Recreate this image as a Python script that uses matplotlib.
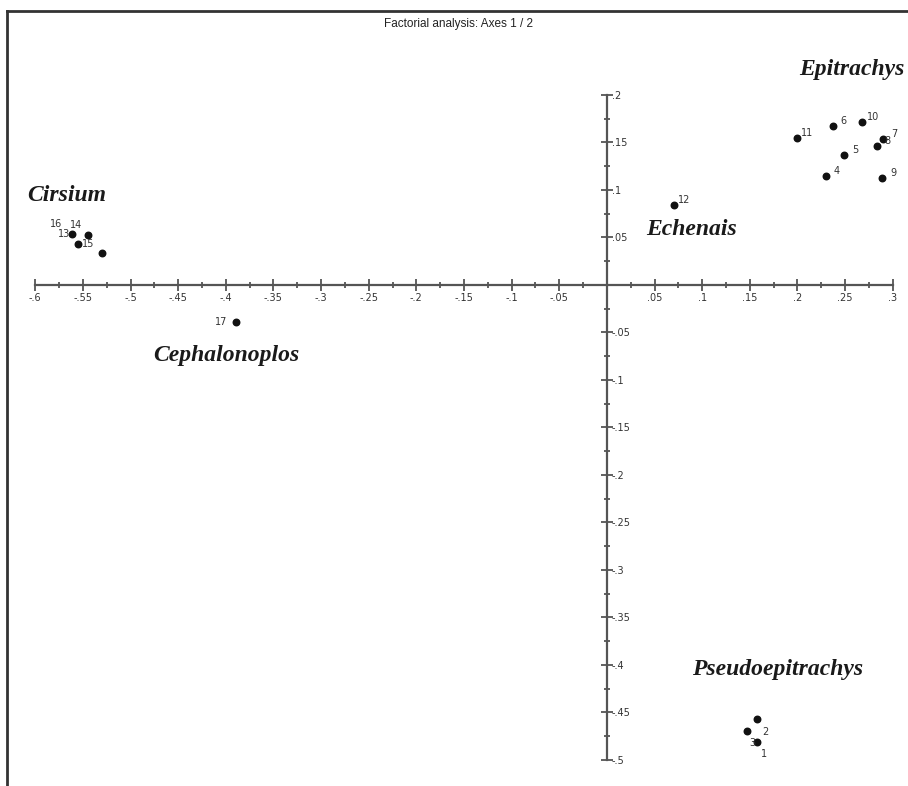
import matplotlib.pyplot as plt
from matplotlib.lines import Line2D
from matplotlib.ticker import FixedLocator, FuncFormatter

# Factor scores on axes 1 and 2, one entry per relevé
point_ids = ['1', '2', '3', '4', '5', '6', '7', '8', '9', '10',
             '11', '12', '13', '14', '15', '16', '17']
axis1 = [0.158, 0.158, 0.147, 0.230, 0.249, 0.237, 0.290, 0.283, 0.289, 0.268,
         0.199, 0.070, -0.555, -0.545, -0.530, -0.561, -0.389]
axis2 = [-0.481, -0.457, -0.469, 0.115, 0.137, 0.167, 0.154, 0.146, 0.113, 0.172,
         0.155, 0.084, 0.043, 0.053, 0.034, 0.054, -0.039]

# which way each number label sits from its dot (pixels)
label_offset = {
    '1': (7, -12), '2': (8, -13), '3': (5, -12),
    '13': (-14, 10), '14': (-12, 10), '15': (-14, 9), '16': (-16, 10),
    '17': (-15, 0),
}
default_offset = (11, 5)

# genus names and where they are written (data units, baseline)
groups = ['Epitrachys', 'Cirsium', 'Echenais', 'Cephalonoplos', 'Pseudoepitrachys']
group_x = [0.3127, -0.6086, 0.0409, -0.4764, 0.0892]
group_y = [0.221, 0.0884, 0.0526, -0.080, -0.4105]
group_ha = ['right', 'left', 'left', 'left', 'left']

fig = plt.figure(figsize=(9.08, 7.86), dpi=100)
ax = fig.add_axes([0, 0, 1, 1])
ax.set_xlim(-0.637, 0.316)
ax.set_ylim(-0.5274, 0.300)

axis_col = '#555555'
for side in ['top', 'left']:
    ax.spines[side].set_visible(False)
ax.spines['bottom'].set_position('zero')
ax.spines['right'].set_position('zero')
ax.spines['bottom'].set_bounds(-0.6, 0.3)
ax.spines['right'].set_bounds(-0.5, 0.2)
for side in ['bottom', 'right']:
    ax.spines[side].set_color(axis_col)
    ax.spines[side].set_linewidth(1.6)

ax.yaxis.set_ticks_position('right')
ax.xaxis.set_ticks_position('bottom')

xt = [round(-0.6 + 0.05 * i, 2) for i in range(19) if i != 12]
yt = [round(-0.5 + 0.05 * i, 2) for i in range(15) if i != 10]
ax.set_xticks(xt)
ax.set_yticks(yt)
ax.xaxis.set_minor_locator(FixedLocator([-0.575 + 0.05 * i for i in range(18)]))
ax.yaxis.set_minor_locator(FixedLocator([-0.475 + 0.05 * i for i in range(14)]))


def short(v, pos=None):
    return ('%g' % v).replace('0.', '.')


ax.xaxis.set_major_formatter(FuncFormatter(short))
ax.yaxis.set_major_formatter(FuncFormatter(short))
ax.tick_params(which='major', direction='inout', length=9, width=1.3,
               color=axis_col, labelsize=7, labelcolor='#333333', pad=1)
ax.tick_params(which='minor', direction='inout', length=4, width=1.3, color=axis_col)
ax.tick_params(axis='y', which='major', pad=-1)

ax.scatter(axis1, axis2, s=22, color='#111111', zorder=3, clip_on=False)
for pid, x, y in zip(point_ids, axis1, axis2):
    off = label_offset.get(pid, default_offset)
    ax.annotate(pid, (x, y), xytext=off, textcoords='offset pixels',
                ha='center', va='center', fontsize=7, color='#333333')

for name, gx, gy, ha in zip(groups, group_x, group_y, group_ha):
    ax.text(gx, gy, name, ha=ha, va='baseline', fontsize=17,
            family='Liberation Serif', fontweight='bold', fontstyle='italic',
            color='#1a1a1a')

fig.text(459 / 908, 1 - 24 / 786, 'Factorial analysis: Axes 1 / 2', ha='center',
         va='center', fontsize=8.5, color='#222222', family='Liberation Sans')

# frame around the plot
fig.add_artist(Line2D([7 / 908, 7 / 908], [0, 1 - 11 / 786], color='#333333', lw=2,
                      transform=fig.transFigure))
fig.add_artist(Line2D([7 / 908, 1], [1 - 11 / 786, 1 - 11 / 786], color='#333333', lw=2,
                      transform=fig.transFigure))

fig.savefig('out.png', dpi=100)
